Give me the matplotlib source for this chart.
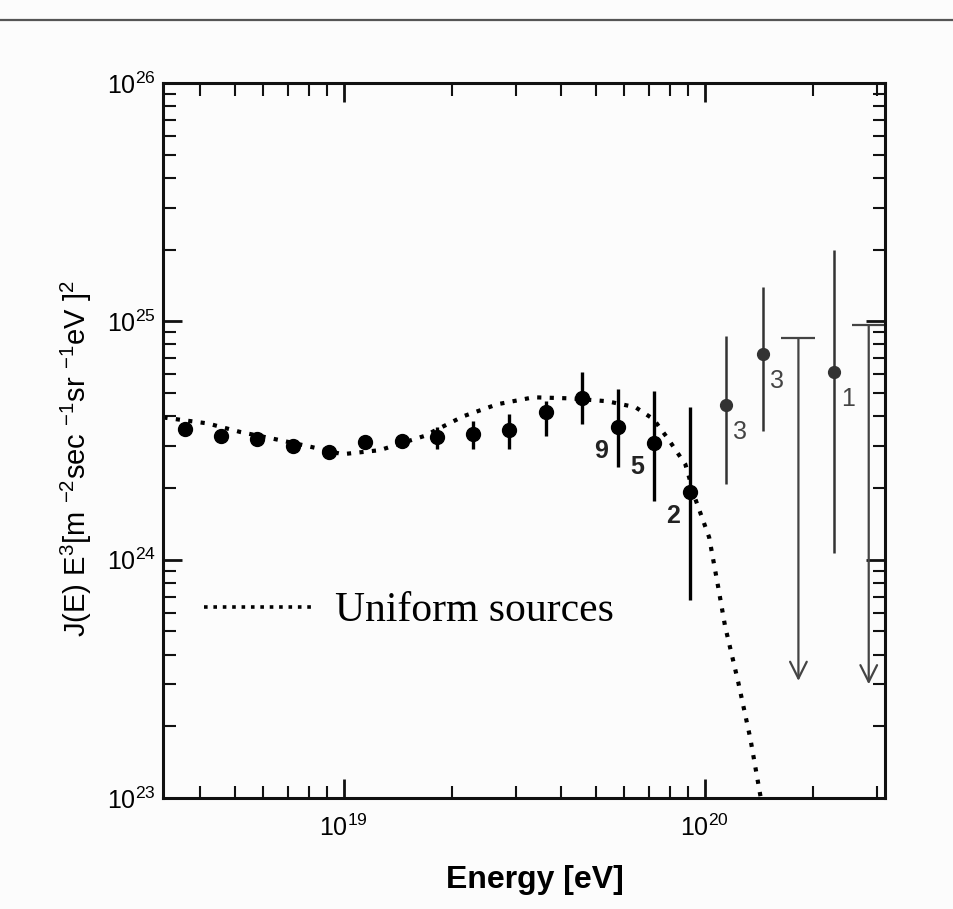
import numpy as np
import matplotlib.pyplot as plt
from matplotlib.lines import Line2D
from matplotlib.ticker import LogLocator, NullFormatter, FixedLocator

plt.rcParams['font.family'] = ['Liberation Sans', 'DejaVu Sans']
plt.rcParams['mathtext.fontset'] = 'custom'
plt.rcParams['mathtext.rm'] = 'Liberation Sans'
plt.rcParams['mathtext.it'] = 'Liberation Sans'

# measured points (eV, J(E) E^3)
energy = [3.63e18, 4.57e18, 5.75e18, 7.24e18, 9.12e18, 1.15e19, 1.45e19, 1.82e19,
          2.29e19, 2.88e19, 3.63e19, 4.57e19, 5.75e19, 7.24e19, 9.12e19,
          1.15e20, 1.45e20, 2.29e20]
flux = [3.52e24, 3.30e24, 3.20e24, 2.99e24, 2.82e24, 3.11e24, 3.14e24, 3.27e24,
        3.36e24, 3.49e24, 4.15e24, 4.75e24, 3.60e24, 3.08e24, 1.92e24,
        4.45e24, 7.28e24, 6.11e24]
flux_hi = [3.65e24, 3.42e24, 3.32e24, 3.10e24, 2.93e24, 3.28e24, 3.35e24, 3.60e24,
           3.81e24, 4.07e24, 4.62e24, 6.11e24, 5.19e24, 5.08e24, 4.36e24,
           8.65e24, 14.0e24, 20.0e24]
flux_lo = [3.40e24, 3.18e24, 3.08e24, 2.87e24, 2.70e24, 2.95e24, 2.95e24, 2.91e24,
           2.91e24, 2.91e24, 3.30e24, 3.70e24, 2.44e24, 1.76e24, 0.68e24,
           2.07e24, 3.46e24, 1.07e24]

# event counts written next to the highest bins
count_idx = [12, 13, 14, 15, 16, 17]
count_text = ['9', '5', '2', '3', '3', '1']

# upper limits
limit_energy = [1.82e20, 2.85e20]
limit_top = [8.49e24, 9.62e24]
limit_bottom = [0.31e24, 0.30e24]

# uniform sources model curve
model_energy = [3.17e18, 4.20e18, 5.19e18, 6.49e18, 8.00e18, 9.93e18, 1.26e19, 1.67e19,
                2.15e19, 2.67e19, 3.36e19, 4.26e19, 5.38e19, 6.44e19, 7.23e19, 7.94e19,
                8.85e19, 9.44e19, 1.03e20, 1.09e20, 1.14e20, 1.24e20, 1.34e20, 1.43e20]
model_flux = [3.95e24, 3.73e24, 3.43e24, 3.20e24, 2.99e24, 2.77e24, 2.88e24, 3.30e24,
              4.00e24, 4.49e24, 4.80e24, 4.75e24, 4.62e24, 4.36e24, 3.88e24, 3.20e24,
              2.51e24, 1.79e24, 1.24e24, 0.774e24, 0.526e24, 0.306e24, 0.177e24, 0.101e24]

fig = plt.figure(figsize=(9.54, 9.09), dpi=100, facecolor='#fcfcfc')
ax = fig.add_axes([0.1709, 0.1221, 0.7568, 0.7866])
ax.set_facecolor('#fcfcfc')

# scan header rule
fig.add_artist(Line2D([0, 1], [0.978, 0.978], transform=fig.transFigure,
                      color='#555555', lw=1.6))

ax.plot(model_energy, model_flux, color='k', lw=3, ls=(0, (1, 2)), zorder=2)

e = np.array(energy)
f = np.array(flux)
yerr = [f - np.array(flux_lo), np.array(flux_hi) - f]
ax.errorbar(e[:15], f[:15], yerr=[yerr[0][:15], yerr[1][:15]], fmt='o', color='k',
            ms=10, elinewidth=2.4, capsize=0, zorder=3)
ax.errorbar(e[15:], f[15:], yerr=[yerr[0][15:], yerr[1][15:]], fmt='o', color='#333333',
            ms=8.5, elinewidth=1.8, capsize=0, zorder=3)

for i, t in zip(count_idx, count_text):
    if i < 15:
        ax.annotate(t, (energy[i], flux[i]), xytext=(-12, -17), textcoords='offset points',
                    ha='center', va='center', fontsize=18, fontweight='bold', color='#222222')
    else:
        ax.annotate(t, (energy[i], flux[i]), xytext=(10, -19), textcoords='offset points',
                    ha='center', va='center', fontsize=18, color='#444444')

for x, top, bot in zip(limit_energy, limit_top, limit_bottom):
    ax.plot([x], [top], marker='_', ms=25, mew=1.6, color='#444444')
    ax.annotate('', xy=(x, bot), xytext=(x, top),
                arrowprops=dict(arrowstyle='->', lw=1.6, color='#444444',
                                mutation_scale=30, shrinkA=0, shrinkB=0))

ax.set_xscale('log')
ax.set_yscale('log')
ax.set_xlim(10**18.5, 10**20.5)
ax.set_ylim(1e23, 1e26)

ax.xaxis.set_major_locator(FixedLocator([1e19, 1e20]))
ax.xaxis.set_minor_locator(LogLocator(base=10, subs=np.arange(2, 10), numticks=20))
ax.xaxis.set_minor_formatter(NullFormatter())
ax.yaxis.set_minor_formatter(NullFormatter())
ax.set_xticklabels([r'$\mathregular{10^{19}}$', r'$\mathregular{10^{20}}$'])
ax.set_yticks([1e23, 1e24, 1e25, 1e26])
ax.set_yticklabels([r'$\mathregular{10^{23}}$', r'$\mathregular{10^{24}}$',
                    r'$\mathregular{10^{25}}$', r'$\mathregular{10^{26}}$'])

ax.tick_params(which='both', direction='in', top=True, right=True, color='#111111')
ax.tick_params(which='major', length=14, width=2, labelsize=18)
ax.tick_params(axis='x', which='major', pad=12)
ax.tick_params(axis='y', which='major', pad=5)
ax.tick_params(which='minor', length=9, width=1.5)
for s in ax.spines.values():
    s.set_linewidth(2.2)
    s.set_color('#111111')

ax.set_xlabel('Energy [eV]', fontsize=23, fontweight='bold')
ax.xaxis.set_label_coords(0.515, -0.093)
ax.set_ylabel(r'J(E) E$^{3}$[m $^{-2}$sec $^{-1}$sr $^{-1}$eV ]$^{2}$', fontsize=21)
ax.yaxis.set_label_coords(-0.095, 0.475)

proxy = Line2D([], [], color='k', lw=2.6, ls=(0, (1, 1.6)))
ax.legend([proxy], ['Uniform sources'], loc='center left', bbox_to_anchor=(0.057, 0.2615),
          frameon=False, borderpad=0, borderaxespad=0, handlelength=2.6,
          handletextpad=0.55, prop={'family': 'Liberation Serif', 'size': 30})

fig.savefig('out.png', dpi=100, facecolor=fig.get_facecolor())
